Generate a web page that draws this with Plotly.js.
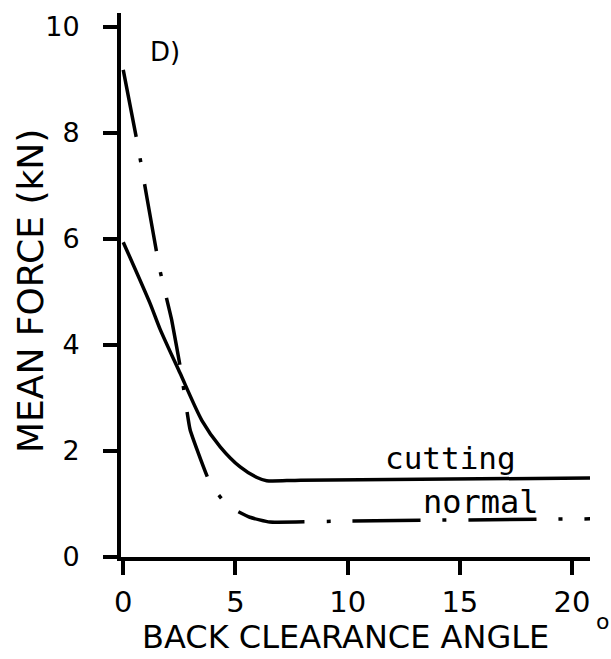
<!DOCTYPE html>
<html>
<head>
<meta charset="utf-8">
<script src="https://cdn.plot.ly/plotly-3.0.1.min.js"></script>
<style>html,body{margin:0;padding:0;background:#fff;}#chart{width:611px;height:659px;}</style>
</head>
<body>
<div id="chart"></div>
<script>
// Data (panel D)
const xTickVals = [0, 5, 10, 15, 20];
const yTickVals = [0, 2, 4, 6, 8, 10];

const cuttingAngle = [0, 1.19, 1.64, 2.53, 3.50, 4.32, 5.21, 5.96, 6.39, 7.9, 20.8];
const cuttingForce = [5.94, 4.79, 4.30, 3.47, 2.58, 2.08, 1.70, 1.50, 1.44, 1.45, 1.49];

const normalAngle = [0, 0.66, 1.06, 1.64, 2.16, 2.58, 2.98, 3.79, 4.14, 4.68, 5.64, 6.53, 10.1, 20.8];
const normalForce = [9.19, 7.74, 6.77, 5.40, 4.47, 3.49, 2.40, 1.47, 1.23, 0.96, 0.75, 0.66, 0.68, 0.72];

const seriesNames = ['cutting', 'normal'];
const panelLabel = 'D)';
const xTitle = 'BACK CLEARANCE ANGLE';
const xUnit = 'o';
const yTitle = 'MEAN FORCE (kN)';

const FONT = 'DejaVu Sans, Arial, sans-serif';
const MONO = 'DejaVu Sans Mono, monospace';

const traces = [
  {
    x: cuttingAngle, y: cuttingForce, name: seriesNames[0],
    type: 'scatter', mode: 'lines',
    line: {color: '#000', width: 3.5, shape: 'spline', smoothing: 0.7}
  },
  {
    x: normalAngle, y: normalForce, name: seriesNames[1],
    type: 'scatter', mode: 'lines',
    line: {color: '#000', width: 3.5, shape: 'spline', smoothing: 0.35, dash: '68px,22px,4px,22px'}
  }
];

const layout = {
  width: 611, height: 659,
  margin: {l: 121, r: 21, t: 13, b: 102},
  paper_bgcolor: '#fff', plot_bgcolor: '#fff',
  showlegend: false,
  font: {family: FONT, color: '#000'},
  xaxis: {
    range: [-0.1, 20.8],
    tickvals: xTickVals, ticktext: xTickVals.map(String),
    showline: true, linewidth: 4, linecolor: '#000',
    ticks: 'outside', ticklen: 14, tickwidth: 4, tickcolor: '#000',
    tickfont: {family: FONT, size: 29, color: '#000'},
    ticklabelstandoff: 2,
    showgrid: false, zeroline: false
  },
  yaxis: {
    range: [0, 10.264],
    tickvals: yTickVals, ticktext: yTickVals.map(String),
    showline: true, linewidth: 4, linecolor: '#000',
    ticks: 'outside', ticklen: 14, tickwidth: 4, tickcolor: '#000',
    tickfont: {family: FONT, size: 27, color: '#000'},
    ticklabelstandoff: 18,
    showgrid: false, zeroline: false
  },
  annotations: [
    // axis titles
    {x: 0.4797, y: -0.1855, xref: 'paper', yref: 'paper', text: xTitle, showarrow: false,
     xanchor: 'center', yanchor: 'bottom', font: {family: FONT, size: 32, color: '#000'}},
    {x: -0.1919, y: 0.489, xref: 'paper', yref: 'paper', text: yTitle, showarrow: false, textangle: -90,
     xanchor: 'center', yanchor: 'middle', font: {family: FONT, size: 36, color: '#000'}},
    // degree mark of the x title
    {x: 1.0, y: -0.118, xref: 'paper', yref: 'paper', xshift: 21, text: xUnit, showarrow: false,
     xanchor: 'right', yanchor: 'middle', font: {family: FONT, size: 22, color: '#000'}},
    // series labels
    {x: 14.6, y: 1.86, xref: 'x', yref: 'y', text: seriesNames[0], showarrow: false,
     xanchor: 'center', yanchor: 'middle', font: {family: MONO, size: 31, color: '#000'}},
    {x: 15.95, y: 1.03, xref: 'x', yref: 'y', text: seriesNames[1], showarrow: false,
     xanchor: 'center', yanchor: 'middle', font: {family: MONO, size: 32, color: '#000'}},
    // panel label
    {x: 1.86, y: 9.52, xref: 'x', yref: 'y', text: panelLabel, showarrow: false,
     xanchor: 'center', yanchor: 'middle', font: {family: FONT, size: 26, color: '#000'}}
  ]
};

Plotly.newPlot('chart', traces, layout, {staticPlot: true, displayModeBar: false});
</script>
</body>
</html>
